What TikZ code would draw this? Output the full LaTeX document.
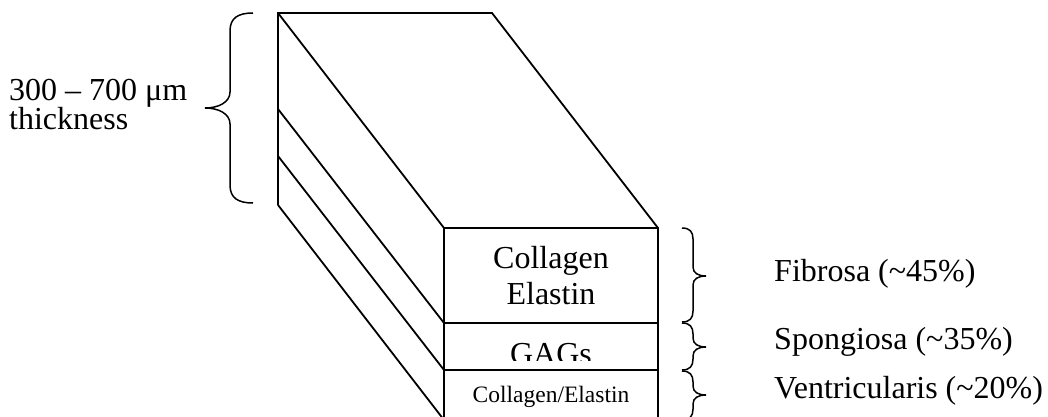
\documentclass[tikz,border=0pt]{standalone}
\usepackage{fontspec}
\setmainfont{Liberation Serif}

% curly brace opening to the left, tip pointing right: top, tip and bottom y
\newcommand\layerbrace[3]{%
  \draw[bracepen] (682,#1) .. controls (690,#1) and (693,{#1+4}) .. (693,{#1+11})
    -- (693,{#2-9}) .. controls (693,{#2-3}) and (698,#2) .. (706,#2)
    .. controls (698,#2) and (693,{#2+3}) .. (693,{#2+9})
    -- (693,{#3-11}) .. controls (693,{#3-4}) and (690,#3) .. (682,#3);}

\begin{document}
\begin{tikzpicture}[x=1pt,y=-1pt,
  edge/.style={line width=1.8pt, line join=miter},
  bracepen/.style={line width=1.5pt},
  lbl/.style={inner sep=0pt, font=\fontsize{32}{36}\selectfont},
  smalllbl/.style={inner sep=0pt, font=\fontsize{23.5}{26}\selectfont}]
\useasboundingbox (0,0) rectangle (1048,417);
\fill[white] (0,0) rectangle (1048,417);
\clip (0,0) rectangle (1048,417);

% corners of the layered block
\coordinate (backTL) at (278,13);
\coordinate (backTR) at (492,13);
\coordinate (backBL) at (278,205);
\coordinate (backL1) at (278,109);
\coordinate (backL2) at (278,156);
\coordinate (frontTL) at (444,228);
\coordinate (frontTR) at (658,228);
\coordinate (frontL1) at (444,323);
\coordinate (frontR1) at (658,323);
\coordinate (frontL2) at (444,370);
\coordinate (frontR2) at (658,370);
\coordinate (frontBL) at (444,420);
\coordinate (frontBR) at (658,420);

% top face and outline
\draw[edge] (backBL) -- (backTL) -- (backTR) -- (frontTR) -- (frontBR);
\draw[edge] (backTL) -- (frontTL) -- (frontTR);
\draw[edge] (frontTL) -- (frontBL);
\draw[edge] (backBL) -- (frontBL);
% layer boundaries
\draw[edge] (backL1) -- (frontL1) -- (frontR1);
\draw[edge] (backL2) -- (frontL2) -- (frontR2);

% thickness brace
\draw[bracepen] (253,13) .. controls (238,13) and (230,18) .. (230,31)
  -- (230,92) .. controls (230,102) and (219,108) .. (205,108)
  .. controls (219,108) and (230,114) .. (230,124)
  -- (230,185) .. controls (230,198) and (238,203) .. (253,203);

\node[lbl, anchor=base west] (range) at (9,100) {300 – 700 μm};
\node[lbl, anchor=base west] (thick) at (9,129) {thickness};

% layer contents
\node[lbl, anchor=base] (collagen) at (551,268) {Collagen};
\node[lbl, anchor=base] (elastin) at (551,304) {Elastin};
\begin{scope}
  \clip (444,323) rectangle (658,360);
  \node[lbl, anchor=base] (gags) at (551,364) {GAGs};
\end{scope}
\node[smalllbl, anchor=base] (colela) at (551,402) {Collagen/Elastin};

% layer braces and names
\layerbrace{228}{276}{322}
\layerbrace{323}{347}{370}
\layerbrace{371}{395}{420}

\node[lbl, anchor=base west] (fibrosa) at (774,281) {Fibrosa (\textasciitilde45\%)};
\node[lbl, anchor=base west] (spongiosa) at (774,349) {Spongiosa (\textasciitilde35\%)};
\node[lbl, anchor=base west] (ventric) at (774,398) {Ventricularis (\textasciitilde20\%)};
\end{tikzpicture}
\end{document}
